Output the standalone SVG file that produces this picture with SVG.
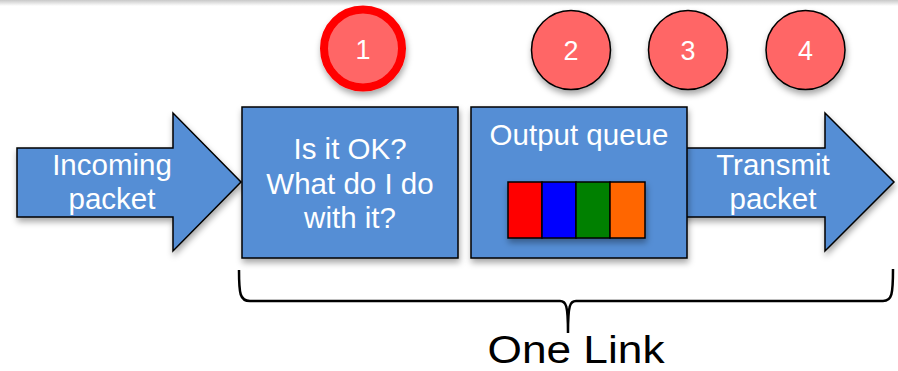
<svg xmlns="http://www.w3.org/2000/svg" width="898" height="371" viewBox="0 0 898 371">
  <defs>
    <linearGradient id="topbar" x1="0" y1="0" x2="0" y2="1">
      <stop offset="0" stop-color="#c8c8c8"/>
      <stop offset="1" stop-color="#ffffff"/>
    </linearGradient>
    <filter id="shadow" x="-20%" y="-20%" width="140%" height="150%">
      <feDropShadow dx="1" dy="4" stdDeviation="3" flood-color="#000" flood-opacity="0.35"/>
    </filter>
    <style>
      .shape { fill: #558ED5; stroke: #000; stroke-width: 1.5; filter: url(#shadow); }
      .label { font-family: "Liberation Sans", Arial, sans-serif; fill: #fff; text-anchor: middle; }
      .big { font-size: 29.5px; }
      .num { font-size: 27px; }
      .dot { fill: #FF6666; stroke: #000; stroke-width: 1.5; filter: url(#shadow); }
      .cell { stroke: #000; stroke-width: 1.5; }
    </style>
  </defs>
  <rect x="0" y="0" width="898" height="371" fill="#fff"/>
  <rect x="0" y="0" width="898" height="6" fill="url(#topbar)"/>

  <g id="incoming">
    <polygon class="shape" points="17,148 173,148 173,113 241,182 173,251 173,217 17,217"/>
    <text class="label big" x="112" y="175">Incoming</text>
    <text class="label big" x="112" y="209">packet</text>
  </g>

  <g id="transmit">
    <polygon class="shape" points="680,148 825,148 825,113 894,182 825,251 825,217 680,217"/>
  </g>

  <g id="check">
    <rect class="shape" x="242" y="107" width="216" height="151"/>
    <text class="label big" x="350" y="159">Is it OK?</text>
    <text class="label big" x="350" y="193.5">What do I do</text>
    <text class="label big" x="350" y="228">with it?</text>
  </g>

  <g id="queue">
    <rect class="shape" x="471" y="107" width="216" height="151"/>
    <text class="label big" x="579" y="145">Output queue</text>
    <g filter="url(#shadow)">
      <rect class="cell" x="508" y="182" width="34" height="56" fill="#FF0000"/>
      <rect class="cell" x="542" y="182" width="34" height="56" fill="#0000FF"/>
      <rect class="cell" x="576" y="182" width="34" height="56" fill="#008000"/>
      <rect class="cell" x="610" y="182" width="35" height="56" fill="#FF6600"/>
    </g>
  </g>

  <g id="transmit-label">
    <text class="label big" x="773" y="175">Transmit</text>
    <text class="label big" x="773" y="209">packet</text>
  </g>

  <g id="step1">
    <circle cx="363" cy="48.5" r="39" fill="#FF6666" stroke="#FF0000" stroke-width="8" filter="url(#shadow)"/>
    <text class="label num" x="363" y="58.5">1</text>
  </g>
  <g id="step2">
    <circle class="dot" cx="571" cy="50" r="39.5"/>
    <text class="label num" x="571" y="60">2</text>
  </g>
  <g id="step3">
    <circle class="dot" cx="688" cy="50" r="39.5"/>
    <text class="label num" x="688" y="60">3</text>
  </g>
  <g id="step4">
    <circle class="dot" cx="805.5" cy="50" r="39.5"/>
    <text class="label num" x="805.5" y="60">4</text>
  </g>

  <g id="connectors">
    <path d="M239,270 C239,294 240,301 250,301 L560,301 C566,301 568,305 568,333 C568,305 570,301 576,301 L883,301 C892,301 893,294 893,269" fill="none" stroke="#000" stroke-width="2.5"/>
  </g>

  <g id="one-link">
    <text x="576" y="362.5" font-family="Liberation Sans, Arial, sans-serif" font-size="38" fill="#000" text-anchor="middle" textLength="177" lengthAdjust="spacingAndGlyphs">One Link</text>
  </g>
</svg>
